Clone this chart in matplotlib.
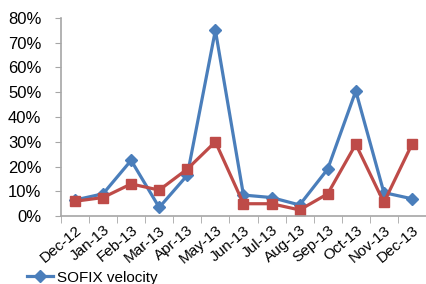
import matplotlib
matplotlib.use("Agg")
import matplotlib.pyplot as plt
from matplotlib.ticker import FuncFormatter, MultipleLocator
import numpy as np

months = ["Dec-12", "Jan-13", "Feb-13", "Mar-13", "Apr-13", "May-13", "Jun-13",
          "Jul-13", "Aug-13", "Sep-13", "Oct-13", "Nov-13", "Dec-13"]
sofix_velocity = [6.5, 9.0, 22.5, 3.5, 16.5, 75.0, 8.5, 7.5, 4.5, 19.0, 50.5, 9.5, 7.0]
second_series = [6.0, 7.5, 13.0, 10.5, 19.0, 30.0, 5.0, 5.0, 2.5, 9.0, 29.0, 5.5, 29.0]

blue = "#4A7EBB"
red = "#BE4B48"
grey = "#A6A6A6"

plt.rcParams["font.family"] = ["Liberation Sans", "DejaVu Sans"]

fig = plt.figure(figsize=(4.26, 2.84), dpi=100)
ax = fig.add_axes([0.143, 0.239, 0.857, 0.698])

x = np.arange(len(months))
l1, = ax.plot(x, sofix_velocity, color=blue, lw=2.3, marker="D", ms=6,
              label="SOFIX velocity")
ax.plot(x, second_series, color=red, lw=2.3, marker="s", ms=7.5)

ax.set_xlim(-0.5, len(months) - 0.5)
ax.set_ylim(0, 80)
ax.yaxis.set_major_locator(MultipleLocator(10))
ax.yaxis.set_major_formatter(FuncFormatter(lambda v, p: f"{v:.0f}%"))

ax.set_xticks(x)
ax.set_xticklabels(months, rotation=40, ha="right", rotation_mode="anchor")
ax.set_xticks(np.arange(-0.5, len(months), 1), minor=True)
ax.tick_params(axis="x", which="major", length=0, labelsize=11, pad=5)
ax.tick_params(axis="x", which="minor", length=5, color=grey, direction="out")
ax.tick_params(axis="y", length=4, color=grey, labelsize=12, pad=10)

for s in ["top", "right"]:
    ax.spines[s].set_visible(False)
for s in ["left", "bottom"]:
    ax.spines[s].set_color(grey)
    ax.spines[s].set_linewidth(1.2)

fig.legend(handles=[l1], loc="center left", bbox_to_anchor=(0.063, 0.022),
           frameon=False, fontsize=11, handlelength=1.7, handletextpad=0.28,
           borderpad=0, borderaxespad=0)

fig.savefig("out.png", dpi=100)
